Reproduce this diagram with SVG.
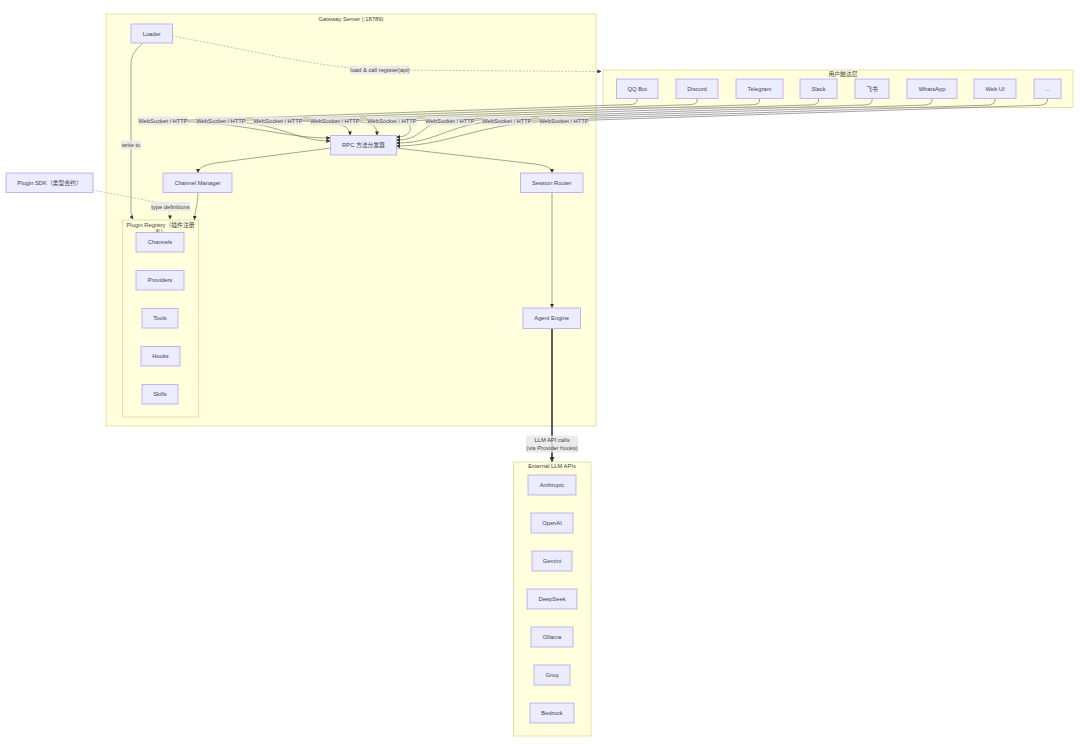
<svg xmlns="http://www.w3.org/2000/svg" width="1080" height="755" viewBox="0 0 1080 755">
<defs>
<marker id="arr" viewBox="0 0 10 10" refX="9" refY="5" markerWidth="4" markerHeight="4" orient="auto" markerUnits="userSpaceOnUse"><path d="M0,0 L10,5 L0,10 z" fill="#333"/></marker>
<marker id="arrT" viewBox="0 0 10 10" refX="9" refY="5" markerWidth="5" markerHeight="5" orient="auto" markerUnits="userSpaceOnUse"><path d="M0,0 L10,5 L0,10 z" fill="#333"/></marker>
<style>
text{font-family:"Liberation Sans","Noto Sans CJK SC",sans-serif;font-size:5.8px;fill:#444;text-anchor:middle}
.cl{fill:#ffffde;stroke:#d6d68a;stroke-width:0.7}
.nd{fill:#ececff;stroke:#b9a3ea;stroke-width:0.8}
.e{fill:none;stroke:#666;stroke-width:0.6;marker-end:url(#arr)}
.d{stroke-dasharray:2 1.5;stroke:#999}
.t{stroke:#333;stroke-width:1.6;marker-end:url(#arrT)}
.lb{fill:#e8e8e8;fill-opacity:0.85}
</style>
</defs>
<rect width="1080" height="755" fill="#fff"/>

<g id="gateway">
<rect class="cl" x="106" y="14" width="490" height="412"/>
<text x="351" y="20.5">Gateway Server (:18789)</text>
</g>
<g id="userlayer">
<rect class="cl" x="603" y="70" width="470" height="37.5"/>
<text x="843" y="76">用户触达层</text>
</g>
<g id="registry">
<rect class="cl" x="122.5" y="220" width="76" height="197"/>
<text x="160.5" y="226.5">Plugin Registry（插件注册</text>
<text x="160.5" y="234">表）</text>
</g>
<g id="external">
<rect class="cl" x="513.5" y="462" width="77.5" height="274"/>
<text x="552" y="468">External LLM APIs</text>
</g>

<g id="connectors">
<path class="e d" d="M172 36 C250 50 320 68 380 70 L601 71.5"/>
<path class="e" d="M143 43 C135 50 131 55 131 65 L131 212 Q131 216 133 219"/>
<path class="e d" d="M93 190 L160 203 C168 205 170 210 170 219"/>
<path class="e" d="M198 192 C198 205 195 210 194.5 219.5"/>
<path class="e" d="M331 148 L215 163 Q198 166 198 172.5"/>
<path class="e" d="M396 148 L535 164 Q552 166 552 172.5"/>
<path class="e" d="M552 192.5 L552 307.5"/>
<path class="e t" d="M552 328.5 L552 461.5"/>
<path class="e" d="M637 98.5 L637 101 Q637 104 631 104.5 L163 121 C250 122 280 138 330 138"/>
<path class="e" d="M697 98.5 L697 101 Q697 104 691 104.6 L221 121 C280 122 295 141 330 141"/>
<path class="e" d="M759.5 98.5 L759.5 101 Q759.5 104 753.5 104.7 L278 121 C330 121 350 122 350 135"/>
<path class="e" d="M818.5 98.5 L818.5 101 Q818.5 104 812.5 104.8 L335 121 C370 121 377 123 377 135"/>
<path class="e" d="M872 98.5 L872 101 Q872 104 866 104.9 L402 121 C412 121 416 137 396.5 137"/>
<path class="e" d="M932 98.5 L932 101 Q932 104 926 105 L450 121 C420 121 425 140 396.5 140"/>
<path class="e" d="M995 98.5 L995 101 Q995 104 989 105.1 L507 121 C450 121 440 143 396.5 143"/>
<path class="e" d="M1047.5 98.5 L1047.5 101 Q1047.5 104 1041.5 105.2 L564 121 C480 121 450 146 396.5 146"/>
</g>

<g id="edge-labels">
<rect class="lb" x="350" y="65.5" width="60" height="9"/><text x="380" y="72">load &amp; call register(api)</text>
<rect class="lb" x="121" y="140.5" width="20" height="9"/><text x="131" y="147">write to</text>
<rect class="lb" x="151" y="202" width="39" height="9"/><text x="170.5" y="208.5">type definitions</text>
<rect class="lb" x="138" y="116.5" width="50" height="9"/><text x="163" y="123">WebSocket / HTTP</text>
<rect class="lb" x="196" y="116.5" width="50" height="9"/><text x="221" y="123">WebSocket / HTTP</text>
<rect class="lb" x="253" y="116.5" width="50" height="9"/><text x="278" y="123">WebSocket / HTTP</text>
<rect class="lb" x="310" y="116.5" width="50" height="9"/><text x="335" y="123">WebSocket / HTTP</text>
<rect class="lb" x="367" y="116.5" width="50" height="9"/><text x="392" y="123">WebSocket / HTTP</text>
<rect class="lb" x="425" y="116.5" width="50" height="9"/><text x="450" y="123">WebSocket / HTTP</text>
<rect class="lb" x="482" y="116.5" width="50" height="9"/><text x="507" y="123">WebSocket / HTTP</text>
<rect class="lb" x="539" y="116.5" width="50" height="9"/><text x="564" y="123">WebSocket / HTTP</text>
<rect class="lb" x="526" y="435.5" width="52" height="17"/><text x="552" y="442">LLM API calls</text><text x="552" y="449.8">(via Provider hooks)</text>
</g>

<g id="n-loader"><rect class="nd" x="131" y="24" width="41.5" height="19"/><text x="151.7" y="35.5">Loader</text></g>
<g id="n-rpc"><rect class="nd" x="330.5" y="135.5" width="66" height="19.5"/><text x="363.5" y="147.3">RPC 方法分发器</text></g>
<g id="n-channelmgr"><rect class="nd" x="163" y="173" width="69" height="19.5"/><text x="197.5" y="184.8">Channel Manager</text></g>
<g id="n-session"><rect class="nd" x="520.5" y="173" width="62.5" height="19.5"/><text x="551.7" y="184.8">Session Router</text></g>
<g id="n-agent"><rect class="nd" x="523" y="308" width="57.5" height="20.5"/><text x="551.7" y="320.3">Agent Engine</text></g>
<g id="n-sdk"><rect class="nd" x="6" y="173" width="87" height="19.5"/><text x="49.5" y="184.8">Plugin SDK（类型合约）</text></g>

<g id="n-channels"><rect class="nd" x="136" y="232.5" width="48" height="19.5"/><text x="160" y="244.3">Channels</text></g>
<g id="n-providers"><rect class="nd" x="136" y="270.5" width="48" height="19.5"/><text x="160" y="282.3">Providers</text></g>
<g id="n-tools"><rect class="nd" x="142" y="308.5" width="36" height="19.5"/><text x="160" y="320.3">Tools</text></g>
<g id="n-hooks"><rect class="nd" x="141" y="346.5" width="39" height="19.5"/><text x="160.5" y="358.3">Hooks</text></g>
<g id="n-skills"><rect class="nd" x="142" y="384.5" width="36" height="19.5"/><text x="160" y="396.3">Skills</text></g>

<g id="n-qq"><rect class="nd" x="616.5" y="79" width="41.5" height="19.5"/><text x="637.2" y="90.8">QQ Bot</text></g>
<g id="n-discord"><rect class="nd" x="676" y="79" width="42" height="19.5"/><text x="697" y="90.8">Discord</text></g>
<g id="n-telegram"><rect class="nd" x="736" y="79" width="47" height="19.5"/><text x="759.5" y="90.8">Telegram</text></g>
<g id="n-slack"><rect class="nd" x="800" y="79" width="37" height="19.5"/><text x="818.5" y="90.8">Slack</text></g>
<g id="n-feishu"><rect class="nd" x="855" y="79" width="34" height="19.5"/><text x="872" y="90.8">飞书</text></g>
<g id="n-whatsapp"><rect class="nd" x="907" y="79" width="50" height="19.5"/><text x="932" y="90.8">WhatsApp</text></g>
<g id="n-webui"><rect class="nd" x="974" y="79" width="42" height="19.5"/><text x="995" y="90.8">Web UI</text></g>
<g id="n-more"><rect class="nd" x="1034" y="79" width="27" height="19.5"/><text x="1047.5" y="90.8">...</text></g>

<g id="n-anthropic"><rect class="nd" x="528" y="475" width="48" height="20"/><text x="552" y="487">Anthropic</text></g>
<g id="n-openai"><rect class="nd" x="531" y="513" width="42" height="20"/><text x="552" y="525">OpenAI</text></g>
<g id="n-gemini"><rect class="nd" x="532" y="551" width="40" height="20"/><text x="552" y="563">Gemini</text></g>
<g id="n-deepseek"><rect class="nd" x="527" y="589" width="50" height="20"/><text x="552" y="601">DeepSeek</text></g>
<g id="n-ollama"><rect class="nd" x="531" y="627" width="42" height="20"/><text x="552" y="639">Ollama</text></g>
<g id="n-groq"><rect class="nd" x="534" y="665" width="36" height="20"/><text x="552" y="677">Groq</text></g>
<g id="n-bedrock"><rect class="nd" x="530" y="703" width="44" height="20"/><text x="552" y="715">Bedrock</text></g>
</svg>
